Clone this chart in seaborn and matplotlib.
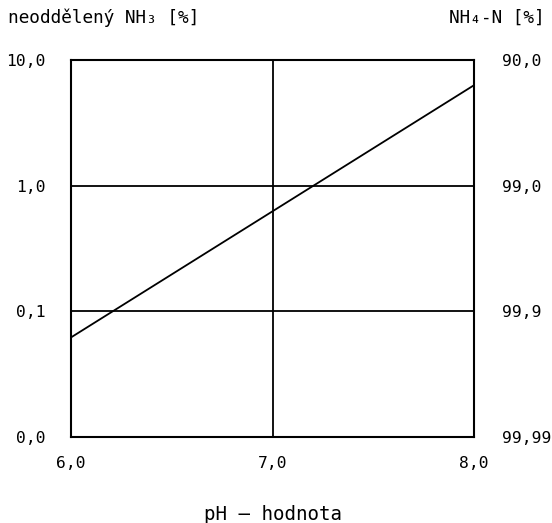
import matplotlib
matplotlib.use("Agg")
import matplotlib.pyplot as plt
import seaborn as sns
import pandas as pd

ph = [6.0, 8.0]
nh3 = [0.062, 6.3]
left_ticks = [0.01, 0.1, 1.0, 10.0]
left_labels = ["0,0", "0,1", "1,0", "10,0"]
right_labels = ["99,99", "99,9", "99,0", "90,0"]
x_ticks = [6.0, 7.0, 8.0]
x_labels = ["6,0", "7,0", "8,0"]

sns.set_style("white")
plt.rcParams['font.family'] = ['DejaVu Sans Mono', 'DejaVu Sans']
plt.rcParams['text.color'] = 'black'
plt.rcParams['xtick.color'] = 'black'
plt.rcParams['ytick.color'] = 'black'

FS = 11.8

fig = plt.figure(figsize=(5.52, 5.23), dpi=100)
ax = fig.add_axes([71/552, 1-437/523, (474-71)/552, (437-60)/523])
df = pd.DataFrame({"pH": ph, "NH3": nh3})
sns.lineplot(data=df, x="pH", y="NH3", ax=ax, color="black", lw=1.3)
ax.set_yscale("log")
ax.set_xlim(6, 8)
ax.set_ylim(0.01, 10)
for y in [0.1, 1.0]:
    ax.axhline(y, color="black", lw=1.3)
ax.axvline(7.0, color="black", lw=1.3)
ax.set_xticks(x_ticks)
ax.set_xticklabels(x_labels, fontsize=FS)
ax.set_yticks(left_ticks)
ax.set_yticklabels(left_labels, fontsize=FS)
ax.minorticks_off()
ax.tick_params(axis="x", length=0, pad=14)
ax.tick_params(axis="y", length=0, pad=18)
ax.set_xlabel("")
ax.set_ylabel("")
for s in ax.spines.values():
    s.set_color("black")
    s.set_linewidth(1.5)

ax2 = ax.twinx()
ax2.set_yscale("log")
ax2.set_ylim(0.01, 10)
ax2.set_yticks(left_ticks)
ax2.set_yticklabels(right_labels, fontsize=FS)
ax2.minorticks_off()
ax2.tick_params(axis="y", length=0, pad=20)
for s in ax2.spines.values():
    s.set_visible(False)

fig.text(8/552, 1-18/523, "neoddělený NH₃ [%]", fontsize=12.8, ha="left", va="center")
fig.text(545/552, 1-18/523, "NH₄-N [%]", fontsize=12.8, ha="right", va="center")
fig.text(273/552, 1-514/523, "pH — hodnota", fontsize=13.8, ha="center", va="center")

fig.savefig("out.png", dpi=100)
